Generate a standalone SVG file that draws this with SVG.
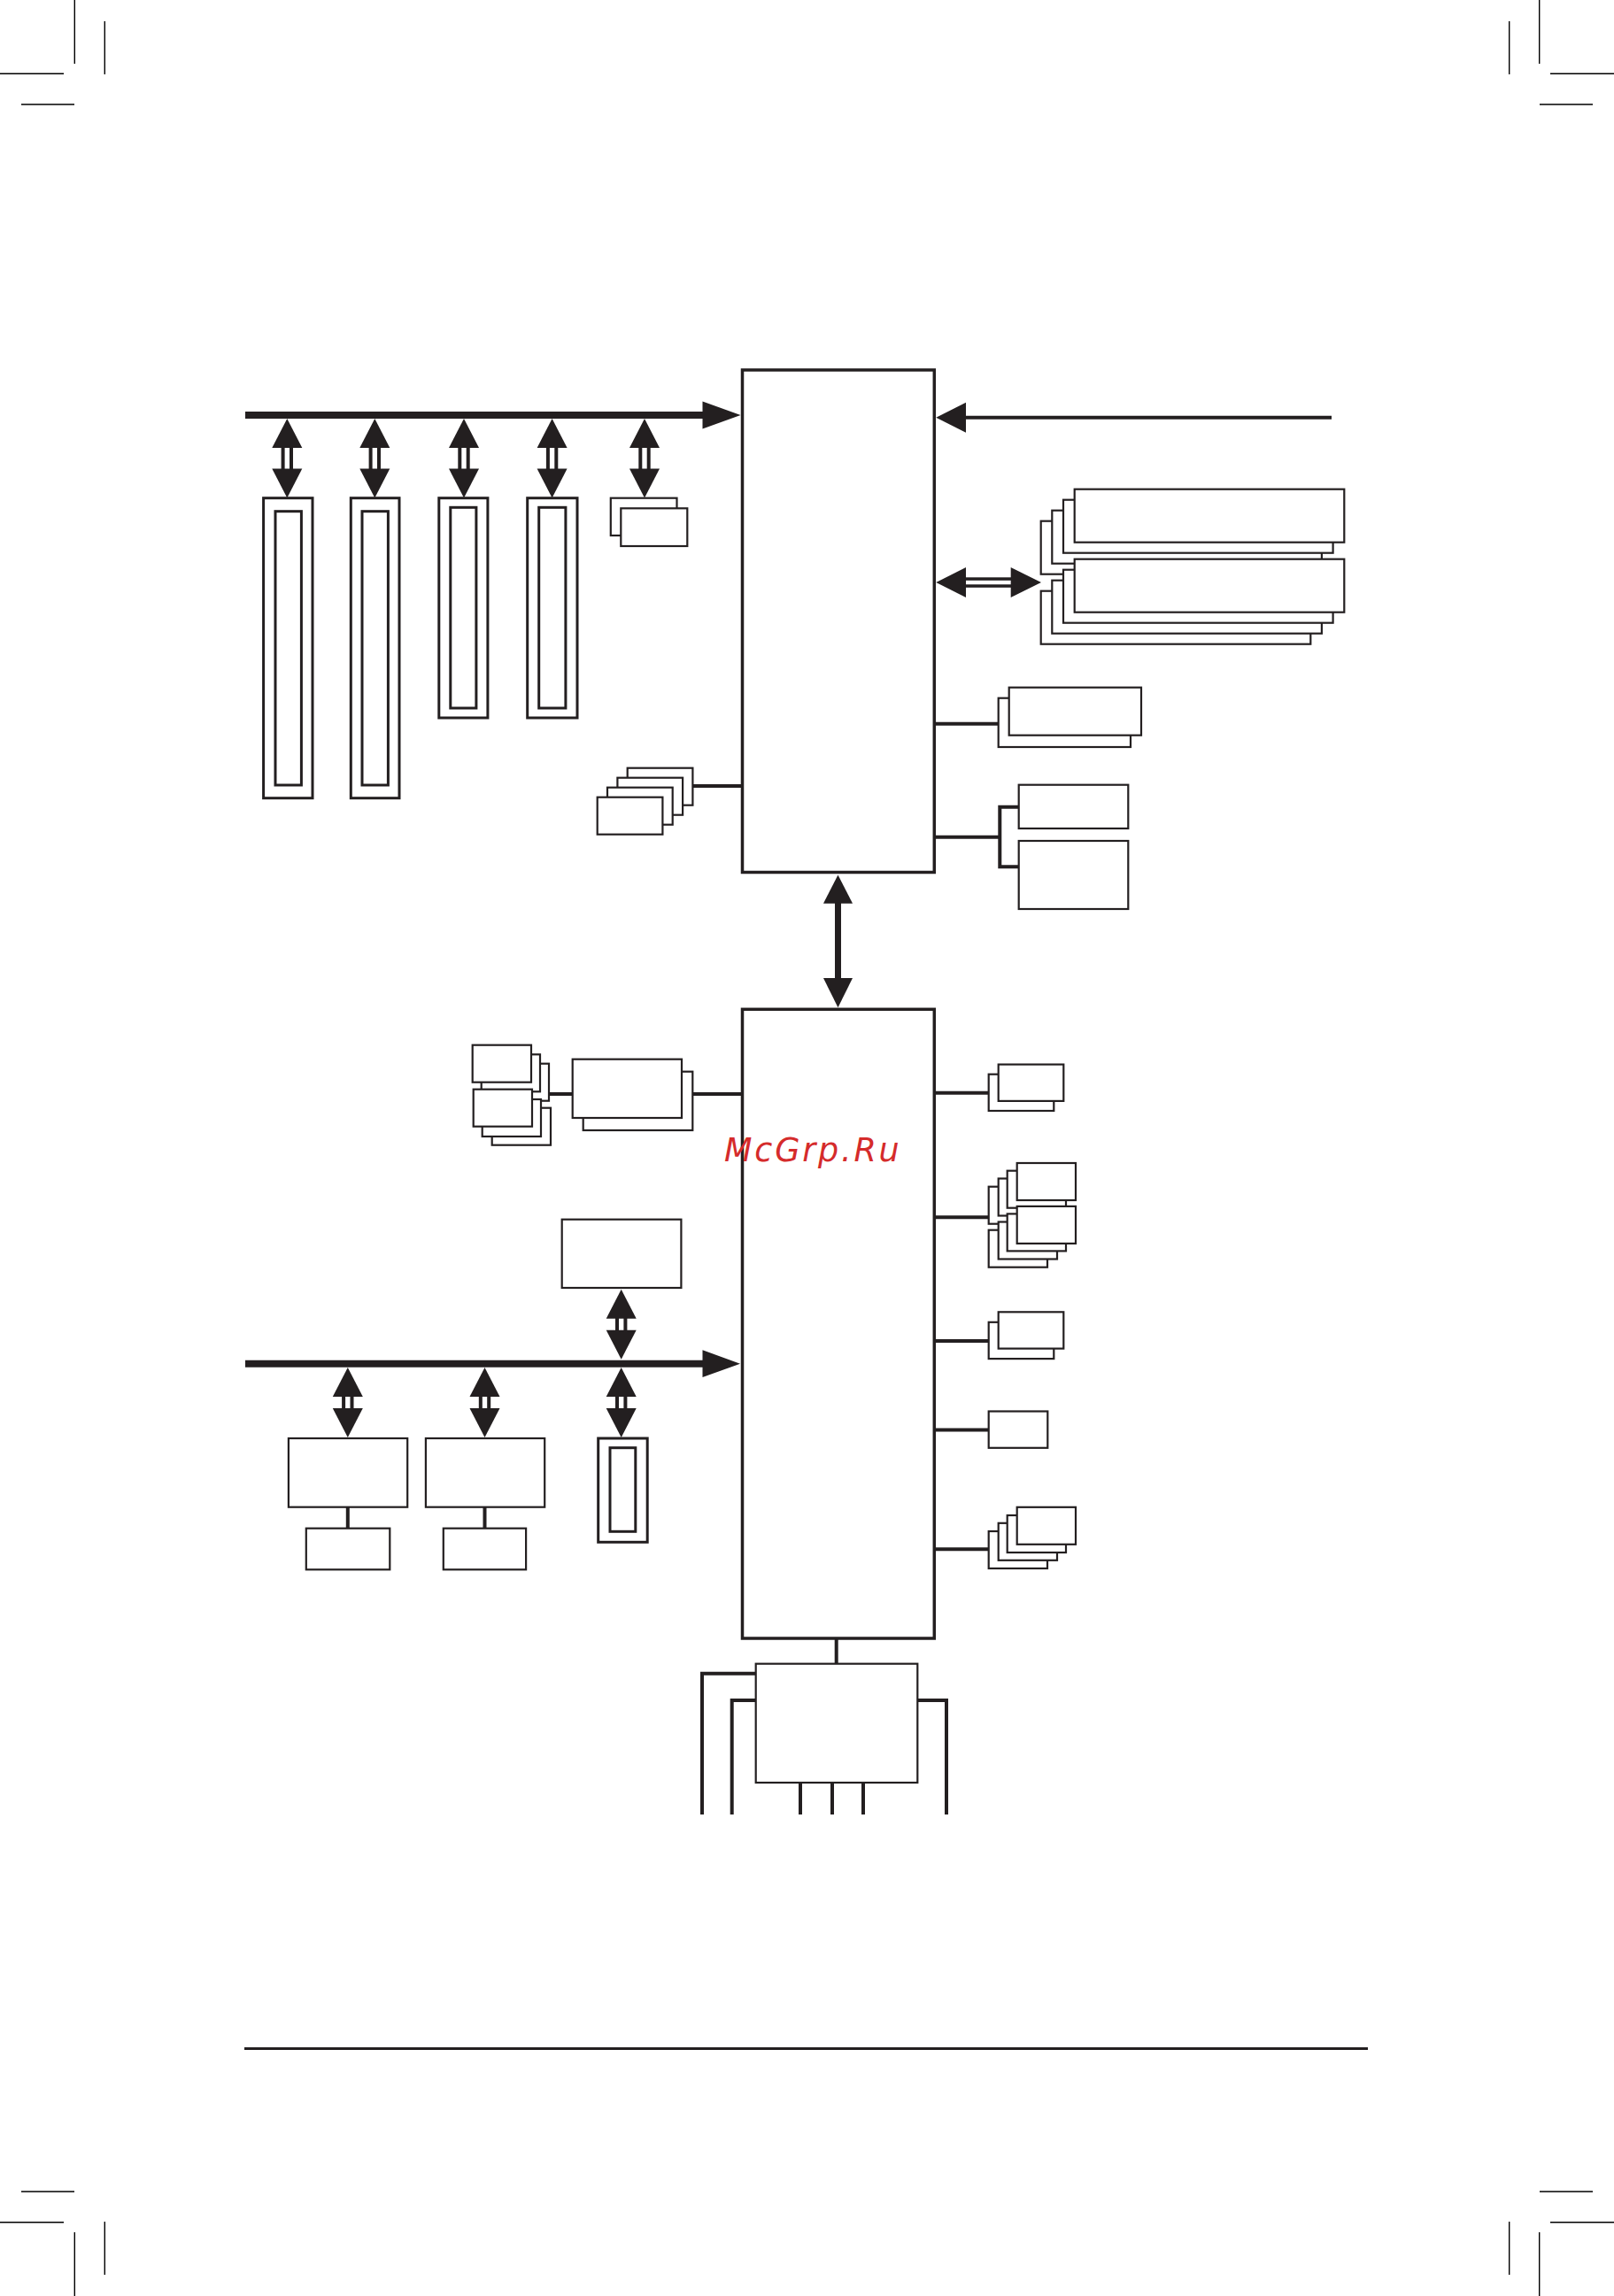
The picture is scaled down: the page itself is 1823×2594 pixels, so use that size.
<svg xmlns="http://www.w3.org/2000/svg" xmlns:xlink="http://www.w3.org/1999/xlink" width="1823" height="2594" viewBox="0 0 1823 2594">
<style>
.bg{fill:#ffffff}
.crop{stroke:#000000;stroke-width:1.4;fill:none}
.box{fill:#ffffff;stroke:#231f20;stroke-width:2.2}
.slot{fill:#ffffff;stroke:#231f20;stroke-width:3}
.chip{fill:#ffffff;stroke:#231f20;stroke-width:3.5}
.wire{fill:none;stroke:#231f20;stroke-width:4}
.bus{fill:none;stroke:#231f20;stroke-width:8}
.head{fill:#231f20;stroke:none}
.wm{font-family:"DejaVu Sans","Liberation Sans",sans-serif;font-style:italic;font-size:36.5px;letter-spacing:2.8px;fill:#d52b2b}
</style>
<defs>
<g id="dblA">
<polygon class="head" points="0,0 17,33 -17,33"/>
<polygon class="head" points="0,89.5 -17,56.5 17,56.5"/>
<rect class="head" x="-6.7" y="32" width="4" height="25.5"/>
<rect class="head" x="2.7" y="32" width="4" height="25.5"/>
</g>
<g id="dblB">
<polygon class="head" points="0,0 17,33 -17,33"/>
<polygon class="head" points="0,79 -17,46 17,46"/>
<rect class="head" x="-6.7" y="32" width="4" height="15"/>
<rect class="head" x="2.7" y="32" width="4" height="15"/>
</g>
</defs>
<rect class="bg" x="0" y="0" width="1823" height="2594"/>

<g id="crop-marks">
<path class="crop" d="M84.3 0V72M118.3 24V84M0 83.3H72M24 118H84"/>
<path class="crop" d="M1738.7 0V72M1704.7 24V84M1751 83.3H1823M1739 118H1799"/>
<path class="crop" d="M84.3 2522V2594M118.3 2510V2570M0 2510.7H72M24 2476H84"/>
<path class="crop" d="M1738.7 2522V2594M1704.7 2510V2570M1751 2510.7H1823M1739 2476H1799"/>
</g>

<g id="connectors">
<!-- top bus -->
<line class="bus" x1="277" y1="469" x2="796" y2="469"/>
<polygon class="head" points="793.5,453.5 836.5,469 793.5,484.5"/>
<use xlink:href="#dblA" x="324.3" y="473"/>
<use xlink:href="#dblA" x="423.3" y="473"/>
<use xlink:href="#dblA" x="524" y="473"/>
<use xlink:href="#dblA" x="623.6" y="473"/>
<use xlink:href="#dblA" x="728" y="473"/>
<!-- incoming from right -->
<line class="wire" x1="1089" y1="471.7" x2="1504" y2="471.7"/>
<polygon class="head" points="1057.3,471.7 1091,454.7 1091,488.7"/>
<!-- memory double arrow -->
<polygon class="head" points="1057.3,657.9 1091,640.9 1091,674.9"/>
<polygon class="head" points="1176,657.9 1141.7,640.9 1141.7,674.9"/>
<rect class="head" x="1090" y="652.3" width="52.7" height="3.5"/>
<rect class="head" x="1090" y="660.3" width="52.7" height="3.5"/>
<!-- NB left stack -->
<line class="wire" x1="782.3" y1="888" x2="838" y2="888"/>
<!-- NB right -->
<line class="wire" x1="1055" y1="817.7" x2="1127.7" y2="817.7"/>
<path class="wire" d="M1055 945.7H1129.3M1150.7 911.7H1129.3V979.3H1150.7"/>
<!-- NB to SB -->
<polygon class="head" points="946.5,988.5 963,1020.7 930,1020.7"/>
<rect class="head" x="943" y="1019.7" width="7" height="86.3"/>
<polygon class="head" points="946.5,1138.3 930,1105 963,1105"/>
<!-- SB left -->
<line class="wire" x1="620" y1="1236" x2="646.7" y2="1236"/>
<line class="wire" x1="782.3" y1="1236" x2="838" y2="1236"/>
<!-- lower bus -->
<line class="bus" x1="277" y1="1540.7" x2="796" y2="1540.7"/>
<polygon class="head" points="793.5,1525.3 836,1540.7 793.5,1556"/>
<use xlink:href="#dblB" x="701.7" y="1456.7"/>
<use xlink:href="#dblB" x="392.8" y="1545"/>
<use xlink:href="#dblB" x="547.5" y="1545"/>
<use xlink:href="#dblB" x="701.7" y="1545"/>
<line class="wire" x1="392.8" y1="1702.7" x2="392.8" y2="1726.7"/>
<line class="wire" x1="547.5" y1="1702.7" x2="547.5" y2="1726.7"/>
<!-- SB right -->
<path class="wire" d="M1055.5 1234.7H1116.7M1055.5 1375.2H1116.7M1055.5 1514.9H1116.7M1055.5 1615.5H1116.7M1055.5 1750.2H1116.7"/>
<!-- SB bottom -->
<line class="wire" x1="944.7" y1="1851" x2="944.7" y2="1880"/>
<path class="wire" d="M853.7 1890.7H793V2050M853.7 1921H826.7V2050M1036.3 1921H1069V2050M904 2014V2050M940 2014V2050M975 2014V2050"/>
<!-- bottom rule -->
<line x1="276" y1="2314.4" x2="1545" y2="2314.4" stroke="#231f20" stroke-width="3"/>
</g>

<g id="north-bridge"><rect class="chip" x="838.5" y="418" width="216.8" height="567.5"/></g>
<g id="south-bridge"><rect class="chip" x="838.5" y="1140.3" width="216.8" height="710.7"/></g>

<g id="slot-1"><rect class="slot" x="297.6" y="562.7" width="55.4" height="339"/><rect class="slot" x="311" y="577.7" width="29.4" height="309.3"/></g>
<g id="slot-2"><rect class="slot" x="396.3" y="562.7" width="54.7" height="339"/><rect class="slot" x="409" y="577.7" width="29.4" height="309.3"/></g>
<g id="slot-3"><rect class="slot" x="495.8" y="562.7" width="55.1" height="248.3"/><rect class="slot" x="508.8" y="573.3" width="29.1" height="226.7"/></g>
<g id="slot-4"><rect class="slot" x="595.7" y="562.7" width="56.3" height="248.3"/><rect class="slot" x="608.7" y="573.3" width="30.2" height="226.7"/></g>
<g id="top-pair"><rect class="box" x="689.8" y="562.7" width="74.7" height="42.3"/><rect class="box" x="701.3" y="574.3" width="75" height="42.7"/></g>

<g id="nb-left-stack">
<rect class="box" x="708.7" y="867.7" width="73.7" height="42"/>
<rect class="box" x="697.4" y="878.7" width="73.7" height="42"/>
<rect class="box" x="686" y="889.7" width="73.7" height="42"/>
<rect class="box" x="674.7" y="900.7" width="73.7" height="42"/>
</g>

<g id="dimm-a">
<rect class="box" x="1175.7" y="588.7" width="304.6" height="60"/>
<rect class="box" x="1188.3" y="576.7" width="304.6" height="60"/>
<rect class="box" x="1201" y="564.7" width="304.6" height="60"/>
<rect class="box" x="1213.7" y="552.7" width="304.6" height="60"/>
</g>
<g id="dimm-b">
<rect class="box" x="1175.7" y="667.7" width="304.6" height="60"/>
<rect class="box" x="1188.3" y="655.7" width="304.6" height="60"/>
<rect class="box" x="1201" y="643.7" width="304.6" height="60"/>
<rect class="box" x="1213.7" y="631.7" width="304.6" height="60"/>
</g>

<g id="nb-right-pair"><rect class="box" x="1127.7" y="788.7" width="149.3" height="55.3"/><rect class="box" x="1139.7" y="776.7" width="149.3" height="54"/></g>
<g id="nb-right-a"><rect class="box" x="1150.7" y="886.7" width="123.6" height="49.3"/></g>
<g id="nb-right-b"><rect class="box" x="1150.7" y="950" width="123.6" height="77"/></g>

<g id="sb-left-stack-a">
<rect class="box" x="553.7" y="1201.7" width="66.3" height="42"/>
<rect class="box" x="543.7" y="1191.3" width="66.3" height="42"/>
<rect class="box" x="533.7" y="1180.7" width="66.3" height="42"/>
</g>
<g id="sb-left-stack-b">
<rect class="box" x="555.7" y="1251.7" width="66.3" height="42"/>
<rect class="box" x="544.7" y="1242" width="66.3" height="42"/>
<rect class="box" x="534.7" y="1230.7" width="66.3" height="42"/>
</g>
<g id="sb-left-pair"><rect class="box" x="658.7" y="1210.7" width="123.6" height="66.3"/><rect class="box" x="646.7" y="1196.7" width="123.3" height="66.3"/></g>

<g id="bus-top-box"><rect class="box" x="634.7" y="1377.7" width="134.7" height="77.3"/></g>
<g id="bus-box-1"><rect class="box" x="325.9" y="1625" width="134.3" height="77.7"/></g>
<g id="bus-box-2"><rect class="box" x="480.9" y="1625" width="134.3" height="77.7"/></g>
<g id="bus-box-1b"><rect class="box" x="345.8" y="1726.7" width="94.5" height="46.6"/></g>
<g id="bus-box-2b"><rect class="box" x="500.8" y="1726.7" width="93.3" height="46.6"/></g>
<g id="slot-5"><rect class="slot" x="675.7" y="1625" width="55.5" height="117.3"/><rect class="slot" x="689" y="1635.7" width="28.8" height="94.6"/></g>

<g id="sb-right-1"><rect class="box" x="1116.7" y="1213.7" width="73.6" height="41.3"/><rect class="box" x="1127.7" y="1202.6" width="73.6" height="41.3"/></g>
<g id="sb-right-2a">
<rect class="box" x="1116.7" y="1340.7" width="66.3" height="42"/>
<rect class="box" x="1127.7" y="1331.5" width="66.3" height="42"/>
<rect class="box" x="1137.7" y="1322.7" width="66.3" height="42"/>
<rect class="box" x="1148.7" y="1314" width="66.3" height="42"/>
</g>
<g id="sb-right-2b">
<rect class="box" x="1116.7" y="1389.7" width="66.3" height="42"/>
<rect class="box" x="1127.7" y="1380.5" width="66.3" height="42"/>
<rect class="box" x="1137.7" y="1371.4" width="66.3" height="42"/>
<rect class="box" x="1148.7" y="1362.9" width="66.3" height="42"/>
</g>
<g id="sb-right-3"><rect class="box" x="1116.7" y="1493.8" width="73.6" height="41.3"/><rect class="box" x="1127.7" y="1482.3" width="73.6" height="41.3"/></g>
<g id="sb-right-4"><rect class="box" x="1116.7" y="1594.5" width="66.6" height="41.3"/></g>
<g id="sb-right-5">
<rect class="box" x="1116.7" y="1730" width="66.3" height="42"/>
<rect class="box" x="1127.7" y="1720.8" width="66.3" height="42"/>
<rect class="box" x="1137.7" y="1712" width="66.3" height="42"/>
<rect class="box" x="1148.7" y="1702.8" width="66.3" height="42"/>
</g>

<g id="super-io"><rect class="box" x="853.7" y="1879.7" width="182.6" height="134.3"/></g>

<text class="wm" x="818" y="1311.7">McGrp.Ru</text>
</svg>
